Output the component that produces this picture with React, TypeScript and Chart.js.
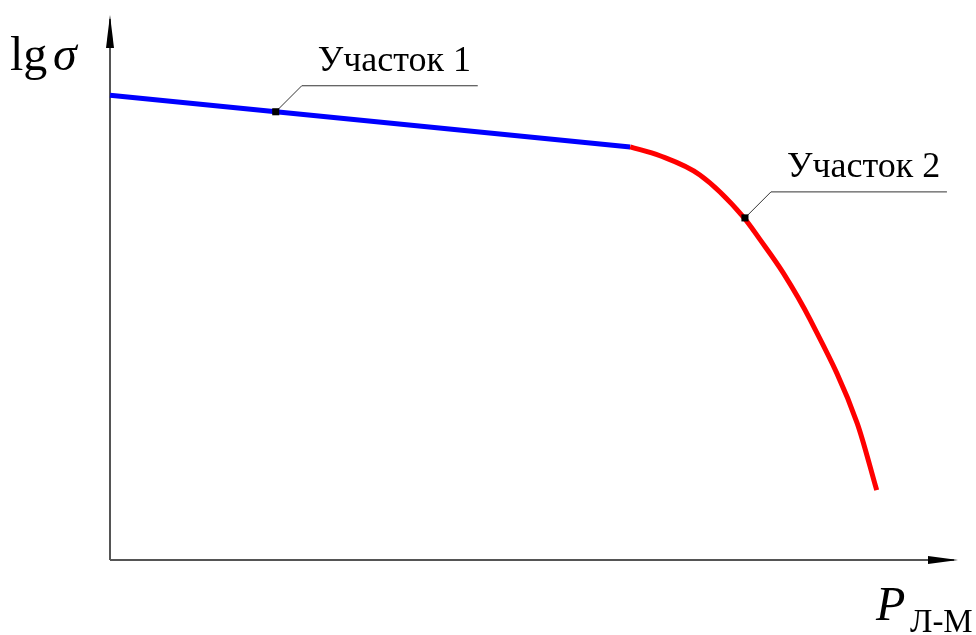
import React, { useEffect, useRef } from "react";
import { Chart, registerables } from "chart.js";

Chart.register(...registerables);

// Section 1: straight segment of lg σ vs P
const blueX = [0, 61.2];
const blueY = [84.5, 75.1];

// Section 2: curved drop-off
const redX = [61.2, 64.7, 69.4, 74.5, 76.5, 79.2, 82.4, 87.9, 90.2];
const redY = [75.1, 73.5, 70.0, 62.4, 58.2, 52.2, 43.6, 24.9, 12.7];

// Labelled points on each section
const sectionLabels = ["Участок 1", "Участок 2"];
const markerX = [19.5, 74.7];
const markerY = [81.5, 62.2];

const yAxisLabel = "lg";
const yAxisSymbol = "σ";
const xAxisSymbol = "P";
const xAxisSubscript = "Л-М";

const SERIF = "'Liberation Serif', 'Times New Roman', serif";

const axesPlugin = {
  id: "axesAndNotes",
  beforeDatasetsDraw(chart: any) {
    const { ctx, scales } = chart;
    const x0 = scales.x.getPixelForValue(0);
    const y0 = scales.y.getPixelForValue(0);
    const yTop = 15;
    const xEnd = 958;
    ctx.save();
    ctx.strokeStyle = "#555";
    ctx.fillStyle = "#000";
    ctx.lineWidth = 2;
    ctx.beginPath();
    ctx.moveTo(x0, y0);
    ctx.lineTo(x0, yTop + 4);
    ctx.moveTo(x0, y0);
    ctx.lineTo(xEnd - 4, y0);
    ctx.stroke();
    // arrow heads
    ctx.beginPath();
    ctx.moveTo(x0, yTop);
    ctx.lineTo(x0 + 4, yTop + 33);
    ctx.lineTo(x0 - 4, yTop + 33);
    ctx.closePath();
    ctx.fill();
    ctx.beginPath();
    ctx.moveTo(xEnd, y0);
    ctx.lineTo(xEnd - 30, y0 - 4);
    ctx.lineTo(xEnd - 30, y0 + 4);
    ctx.closePath();
    ctx.fill();

    // leader lines
    ctx.strokeStyle = "#333";
    ctx.lineWidth = 1;
    for (let i = 0; i < sectionLabels.length; i++) {
      const px = scales.x.getPixelForValue(markerX[i]);
      const py = scales.y.getPixelForValue(markerY[i]);
      const kx = px + 26;
      const ky = py - 26;
      ctx.beginPath();
      ctx.moveTo(px, py);
      ctx.lineTo(kx, ky);
      ctx.lineTo(kx + 176, ky);
      ctx.stroke();
    }
    ctx.restore();
  },
  afterDatasetsDraw(chart: any) {
    const { ctx, scales } = chart;
    ctx.save();
    ctx.fillStyle = "#000";
    ctx.textBaseline = "alphabetic";
    ctx.textAlign = "left";
    ctx.font = `36px ${SERIF}`;
    for (let i = 0; i < sectionLabels.length; i++) {
      const px = scales.x.getPixelForValue(markerX[i]);
      const py = scales.y.getPixelForValue(markerY[i]);
      const kx = px + 26;
      const ky = py - 26;
      ctx.fillText(sectionLabels[i], kx + 16, ky - 15);
    }
    // axis titles
    ctx.font = `48px ${SERIF}`;
    ctx.fillText(yAxisLabel, 10, 70);
    ctx.font = `italic 48px ${SERIF}`;
    ctx.fillText(yAxisSymbol, 53, 70);
    ctx.font = `italic 48px ${SERIF}`;
    ctx.fillText(xAxisSymbol, 876, 620);
    ctx.font = `33px ${SERIF}`;
    ctx.fillText(xAxisSubscript, 910, 632);
    ctx.restore();
  },
};

export default function App() {
  const canvasRef = useRef<HTMLCanvasElement | null>(null);

  useEffect(() => {
    const canvas = canvasRef.current;
    if (!canvas) return;
    const chart = new Chart(canvas, {
      type: "line",
      data: {
        datasets: [
          {
            label: sectionLabels[0],
            data: blueX.map((x, i) => ({ x, y: blueY[i] })),
            borderColor: "#0000ff",
            borderWidth: 5,
            pointRadius: 0,
            tension: 0,
            order: 2,
            clip: false as any,
          },
          {
            label: sectionLabels[1],
            data: redX.map((x, i) => ({ x, y: redY[i] })),
            borderColor: "#ff0000",
            borderWidth: 5,
            pointRadius: 0,
            cubicInterpolationMode: "monotone",
            order: 1,
            clip: false as any,
          },
          {
            label: "markers",
            data: markerX.map((x, i) => ({ x, y: markerY[i] })),
            showLine: false,
            pointStyle: "rect",
            pointRadius: 5,
            backgroundColor: "#000",
            borderColor: "#000",
            borderWidth: 0,
            order: 0,
            clip: false as any,
          },
        ],
      },
      options: {
        responsive: false,
        animation: false,
        layout: { padding: { left: 110, right: 16, top: 10, bottom: 75 } },
        scales: {
          x: { type: "linear", min: 0, max: 100, display: false },
          y: { type: "linear", min: 0, max: 100, display: false },
        },
        plugins: {
          legend: { display: false },
          tooltip: { enabled: false },
        },
      },
      plugins: [axesPlugin],
    });
    return () => chart.destroy();
  }, []);

  return (
    <div style={{ position: "fixed", left: 0, top: 0, width: 976, height: 635, background: "#fff" }}>
      <canvas ref={canvasRef} width={976} height={635} />
    </div>
  );
}
